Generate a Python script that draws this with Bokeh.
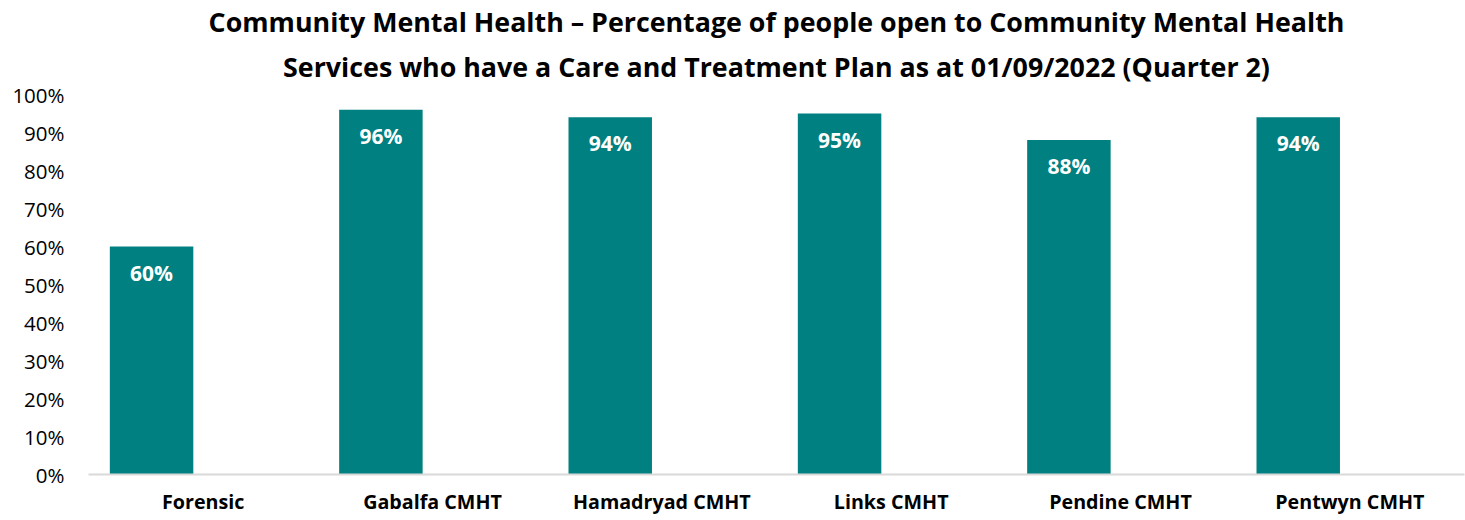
from bokeh.plotting import figure
from bokeh.models import ColumnDataSource, FactorRange, Title, LabelSet, NumeralTickFormatter, FixedTicker
from bokeh.core.properties import value
from bokeh.transform import dodge
from bokeh.embed import file_html
from bokeh.resources import INLINE

categories = ["Forensic", "Gabalfa CMHT", "Hamadryad CMHT", "Links CMHT", "Pendine CMHT", "Pentwyn CMHT"]
values = [0.60, 0.96, 0.94, 0.95, 0.88, 0.94]
labels = ["60%", "96%", "94%", "95%", "88%", "94%"]
y_ticks = [0, 0.1, 0.2, 0.3, 0.4, 0.5, 0.6, 0.7, 0.8, 0.9, 1.0]
title_lines = ["Community Mental Health \u2013 Percentage of people open to Community Mental Health",
               "Services who have a Care and Treatment Plan as at 01/09/2022 (Quarter 2)"]

FONT = "Open Sans"
src = ColumnDataSource(dict(cat=categories, val=values, lab=labels))

p = figure(x_range=FactorRange(*categories), y_range=(0, 1.0),
           width=1465, height=520, output_backend="svg", toolbar_location=None,
           min_border_left=88, min_border_right=1, min_border_bottom=46, min_border_top=0)
p.x_range.range_padding = 0
p.outline_line_color = None
p.grid.visible = False

p.vbar(x=dodge("cat", -0.225, range=p.x_range), top="val", width=0.364, bottom=0,
       source=src, fill_color="#008080", line_color=None)

ls = LabelSet(x=dodge("cat", -0.225, range=p.x_range), y="val", text="lab", source=src,
              text_color="white", text_font=value(FONT), text_font_style="bold", text_font_size="21px",
              text_align="center", text_baseline="top", y_offset=-12)
p.add_layout(ls)

p.yaxis.ticker = FixedTicker(ticks=y_ticks)
p.yaxis.formatter = NumeralTickFormatter(format="0%")
p.yaxis.axis_line_color = None
p.yaxis.major_tick_line_color = None
p.yaxis.minor_tick_line_color = None
p.yaxis.major_label_text_font = FONT
p.yaxis.major_label_text_font_size = "20.5px"
p.yaxis.major_label_text_color = "#000000"
p.yaxis.major_label_standoff = 18

p.xaxis.axis_line_color = "#d9d9d9"
p.xaxis.axis_line_width = 2
p.xaxis.major_tick_line_color = None
p.xaxis.minor_tick_line_color = None
p.xaxis.major_label_text_font = FONT
p.xaxis.major_label_text_font_style = "bold"
p.xaxis.major_label_text_font_size = "19.7px"
p.xaxis.major_label_text_color = "#000000"
p.xaxis.major_label_standoff = 7

t2 = Title(text=title_lines[1], align="center", vertical_align="top",
           text_font=FONT, text_font_style="bold", text_font_size="26.8px", text_color="#000000",
           offset=0, standoff=16)
t1 = Title(text=title_lines[0], align="center", text_line_height=0.85,
           text_font=FONT, text_font_style="bold", text_font_size="26.8px", text_color="#000000",
           offset=0, standoff=0)
p.add_layout(t2, "above")
p.add_layout(t1, "above")

open("out.html", "w").write(file_html(p, INLINE))
